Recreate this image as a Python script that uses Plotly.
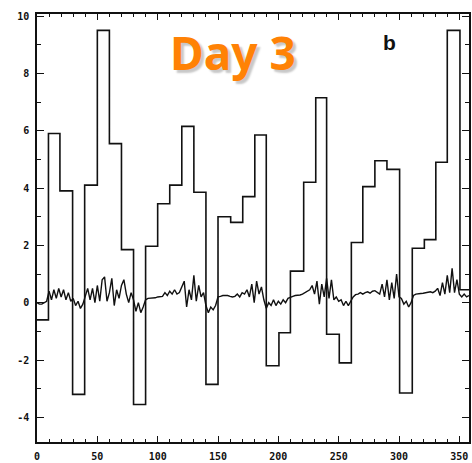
import plotly.graph_objects as go

# Step series: segment edges (minutes) and the level held on each segment
step_edges = [0, 9.5, 19, 29.5, 39.5, 50, 60, 70, 80, 90, 100, 110, 120, 130, 140,
              150, 160.5, 170.5, 180.5, 190, 200.5, 210, 221, 231, 240, 250.5, 260.5,
              270, 280, 290, 300.5, 311, 321, 330.5, 340, 350.5, 358]
step_levels = [-0.6, 5.9, 3.9, -3.2, 4.1, 9.5, 5.55, 1.85, -3.55, 1.97, 3.45, 4.1,
               6.15, 3.85, -2.85, 3.0, 2.8, 3.7, 5.85, -2.2, -1.05, 1.1, 4.2, 7.15,
               -1.1, -2.1, 2.1, 4.05, 4.95, 4.65, -3.15, 1.9, 2.2, 4.9, 9.5, 0.45]

# Response trace sampled every 2 minutes
minutes = list(range(0, 360, 2))
response = [
    0.0, -0.05, -0.05, 0.0, 0.05, 0.4, 0.1, 0.45, 0.15, 0.5,
    0.2, 0.45, 0.1, 0.35, 0.05, 0.15, -0.1, 0.05, -0.2, -0.05,
    0.25, 0.5, 0.1, 0.5, 0.0, 0.6, 0.05, 0.8, 0.9, 0.05,
    0.35, 0.85, -0.1, 0.45, 0.15, 0.6, 0.8, 0.3, 0.0, 0.35,
    0.1, -0.3, 0.0, -0.35, -0.15, 0.1, 0.15, 0.15, 0.15, 0.17,
    0.2, 0.2, 0.22, 0.35, 0.25, 0.4, 0.3, 0.45, 0.3, 0.35,
    0.55, 0.75, -0.15, 0.45, 0.1, 0.95, 0.05, 0.6, 0.2, 0.35,
    -0.1, -0.35, -0.15, -0.25, -0.1, 0.2, 0.22, 0.25, 0.25, 0.25,
    0.22, 0.2, 0.22, 0.3, 0.2, 0.35, 0.3, 0.45, 0.2, 0.65,
    0.0, 0.75, 0.3, 0.55, 0.1, -0.2, 0.0, -0.1, 0.1, -0.1,
    0.05, -0.05, 0.1, 0.0, 0.15, 0.2, 0.22, 0.25, 0.25, 0.27,
    0.3, 0.35, 0.4, 0.45, 0.6, 0.3, 0.75, -0.05, 0.65, 0.2,
    0.85, 0.15, 0.8, 0.1, 0.2, 0.05, 0.1, -0.1, 0.05, -0.1,
    0.05, 0.2, 0.28, 0.3, 0.35, 0.3, 0.35, 0.38, 0.33, 0.4,
    0.42, 0.35, 0.3, 0.65, 0.2, 0.8, 0.1, 0.7, 0.15, 1.0,
    0.2, 0.15, -0.05, 0.05, -0.15, 0.0, 0.25, 0.3, 0.3, 0.32,
    0.33, 0.35, 0.35, 0.38, 0.35, 0.4, 0.5, 0.25, 0.7, 0.3,
    0.95, 0.35, 1.2, 0.35, 0.8, 0.3, 0.2, 0.3, 0.2, 0.25,
]
assert len(minutes) == len(response)

x_ticks = [0, 50, 100, 150, 200, 250, 300, 350]
y_ticks = [-4, -2, 0, 2, 4, 6, 8, 10]

ink = "#111111"
tick_font = dict(family="DejaVu Sans Mono", size=10, color=ink, weight="bold")

fig = go.Figure()
fig.add_trace(go.Scatter(
    x=step_edges, y=step_levels + [step_levels[-1]],
    mode="lines", line=dict(color=ink, width=1.6, shape="hv"),
    hoverinfo="skip", showlegend=False,
))
fig.add_trace(go.Scatter(
    x=minutes, y=response,
    mode="lines", line=dict(color=ink, width=1.4),
    hoverinfo="skip", showlegend=False,
))

fig.update_xaxes(
    range=[0, 358], tickvals=x_ticks, ticktext=[str(v) for v in x_ticks],
    ticks="inside", ticklen=6, tickwidth=1.3, tickcolor=ink,
    minor=dict(dtick=10, tick0=0, ticks="inside", ticklen=3, tickwidth=1.2, tickcolor=ink),
    showline=True, linecolor=ink, linewidth=1.6, mirror="allticks",
    showgrid=False, zeroline=False, tickfont=tick_font, ticklabelstandoff=4,
)
fig.update_yaxes(
    range=[-4.86, 10.07], tickvals=y_ticks, ticktext=[str(v) for v in y_ticks],
    ticks="inside", ticklen=7, tickwidth=1.3, tickcolor=ink,
    minor=dict(dtick=1, tick0=0, ticks="inside", ticklen=4, tickwidth=1.2, tickcolor=ink),
    showline=True, linecolor=ink, linewidth=1.6, mirror="allticks",
    showgrid=False, zeroline=False, tickfont=tick_font, ticklabelstandoff=4,
)

fig.add_annotation(
    x=234, y=52, xref="paper", yref="paper", text="Day 3", showarrow=False,
    font=dict(family="Noto Sans", size=46, color="#FF8205", weight="bold",
              shadow="3px 3px 2px #c8c8c8"),
    xanchor="center", yanchor="middle",
)
fig.add_annotation(
    x=391, y=43, text="b", showarrow=False,
    font=dict(family="Liberation Sans", size=21, color=ink, weight="bold"),
    xanchor="center", yanchor="middle",
)

fig.update_layout(
    width=472, height=463,
    margin=dict(l=37, r=1, t=14, b=17),
    paper_bgcolor="white", plot_bgcolor="white",
)

# Convert the two text annotations from pixel positions to paper coordinates
plot_w = 472 - 37 - 1
plot_h = 463 - 14 - 17
for ann in fig.layout.annotations:
    if ann.text == "Day 3":
        ann.x = (234 - 37) / plot_w
        ann.y = 1 - (52 - 14) / plot_h
    else:
        ann.xref, ann.yref = "paper", "paper"
        ann.x = (391 - 37) / plot_w
        ann.y = 1 - (43 - 14) / plot_h

fig.write_html("out.html")
